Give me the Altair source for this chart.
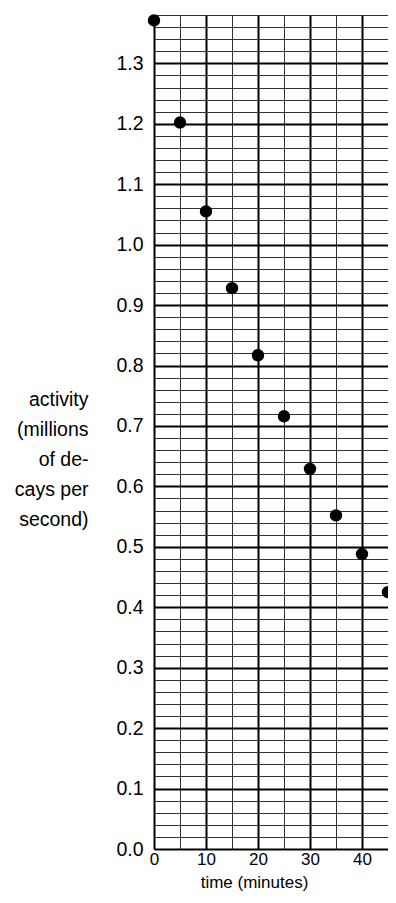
import altair as alt
import pandas as pd

# data
time_min = [0, 5, 10, 15, 20, 25, 30, 35, 40, 45]
activity = [1.371, 1.202, 1.055, 0.928, 0.817, 0.716, 0.629, 0.552, 0.488, 0.425]

# tick / grid values
x_major = [0, 10, 20, 30, 40]
x_minor = [0, 5, 10, 15, 20, 25, 30, 35, 40, 45]
y_major = [round(i * 0.1, 1) for i in range(14)]
y_minor = [round(i * 0.02, 2) for i in range(70)]

x_title = "time (minutes)"
y_title = ["activity", "(millions", "of de-", "cays per", "second)"]

df = pd.DataFrame({"time": time_min, "activity": activity})

FONT = "Liberation Sans"
FS = 19.5
FSX = 17

xs = alt.Scale(domain=[0, 45], nice=False, zero=False)
ys = alt.Scale(domain=[0, 1.38], nice=False, zero=False)

base = alt.Chart(df)

minor = base.mark_point(opacity=0).encode(
    x=alt.X("time:Q", scale=xs, axis=alt.Axis(
        orient="bottom", values=x_minor, grid=True, gridColor="#333333",
        gridWidth=1, gridOpacity=1, labels=False, ticks=False, domain=False,
        title=None, zindex=0)),
    y=alt.Y("activity:Q", scale=ys, axis=alt.Axis(
        orient="left", values=y_minor, grid=True, gridColor="#333333",
        gridWidth=1, gridOpacity=1, labels=False, ticks=False, domain=False,
        title=None, zindex=0)),
)

major = base.mark_point(opacity=0).encode(
    x=alt.X("time:Q", scale=xs, axis=alt.Axis(
        orient="bottom", values=x_major, grid=True, gridColor="#000000",
        gridWidth=2, gridOpacity=1, ticks=False, domain=False,
        labelFont=FONT, labelFontSize=FSX, labelColor="#000000",
        labelPadding=2, labelFlush=False, format="d",
        title=x_title, titleFont=FONT, titleFontSize=FSX,
        titleFontWeight="normal", titleColor="#000000",
        titleX=100, titleY=38, titleAlign="center",
        titleBaseline="alphabetic", zindex=0)),
    y=alt.Y("activity:Q", scale=ys, axis=alt.Axis(
        orient="left", values=y_major, grid=True, gridColor="#000000",
        gridWidth=2, gridOpacity=1, ticks=False, domain=False,
        labelFont=FONT, labelFontSize=FS, labelColor="#000000",
        labelPadding=11, labelFlush=False, format=".1f",
        title=y_title, titleFont=FONT, titleFontSize=FS,
        titleFontWeight="normal", titleColor="#000000",
        titleAngle=0, titleAlign="right", titleBaseline="middle",
        titleX=-66, titleY=384, titleLineHeight=30, zindex=0)),
)

points = base.mark_circle(size=154, color="#000000", opacity=1).encode(
    x=alt.X("time:Q", scale=xs, axis=None),
    y=alt.Y("activity:Q", scale=ys, axis=None),
)

chart = alt.layer(minor, major, points).resolve_axis(
    x="independent", y="independent"
).properties(
    width=234,
    height=834,
    autosize=alt.AutoSizeParams(type="none"),
    padding={"left": 146, "top": 7, "right": 0, "bottom": 42},
).configure_view(stroke=None)

chart.save("out.html", embed_options={"renderer": "svg", "actions": False})
